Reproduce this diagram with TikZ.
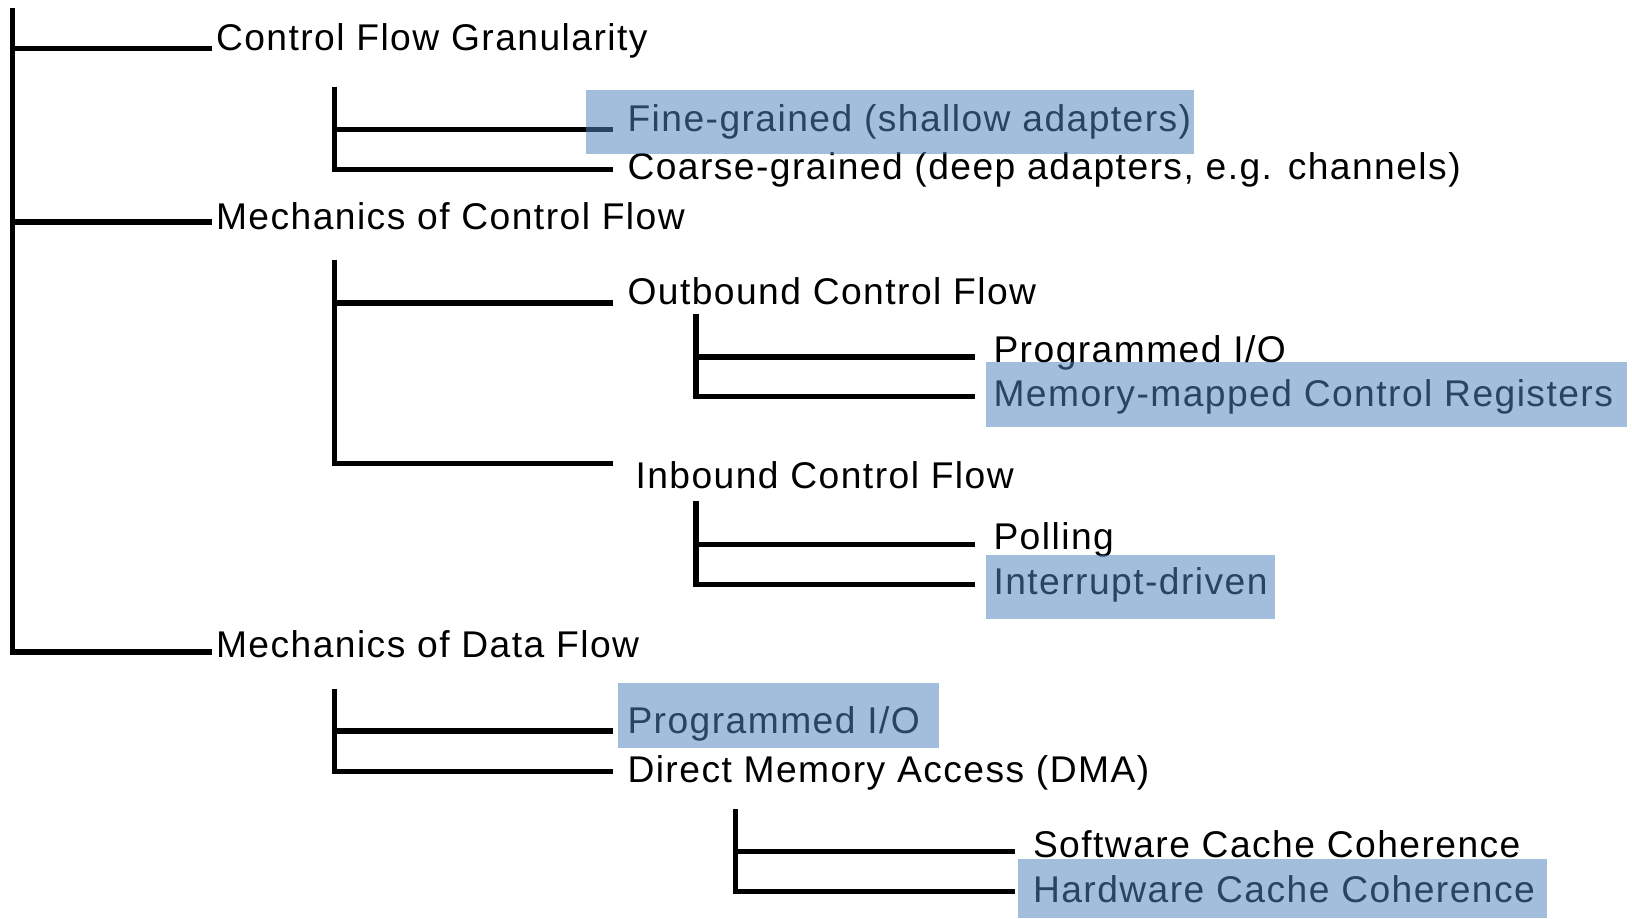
\documentclass[tikz,border=0pt]{standalone}
\usepackage{fontspec}
\setmainfont{Liberation Sans}[LetterSpace=3.9]
\definecolor{hlblue}{RGB}{79,129,189}
\newcommand\treefont{\fontsize{18.6}{22}\selectfont}
\begin{document}
\begin{tikzpicture}[x=0.5pt,y=-0.5pt,
  branch/.style={line width=2.7pt, black},
  label/.style={anchor=base west, inner sep=0pt, outer sep=0pt, font=\treefont},
  hilite/.style={fill=hlblue, fill opacity=0.52, draw=none}]
\useasboundingbox (0,0) rectangle (1632,919);

% labels of the taxonomy
\node[label] (cfg)    at (216,50.5)   {Control Flow Granularity};
\node[label] (fine)   at (627.5,132)  {Fine-grained (shallow adapters)};
\node[label] (coarse) at (627.5,180)  {Coarse-grained (deep adapters, e.g. channels)};
\node[label] (mcf)    at (216,230)    {Mechanics of Control Flow};
\node[label] (outb)   at (627.5,305)  {Outbound Control Flow};
\node[label] (pioa)   at (993.5,363)  {Programmed I/O};
\node[label] (mmcr)   at (993.5,407)  {Memory-mapped Control Registers};
\node[label] (inb)    at (635.5,488)  {Inbound Control Flow};
\node[label] (poll)   at (993.5,549.5){Polling};
\node[label] (irq)    at (993.5,594)  {Interrupt-driven};
\node[label] (mdf)    at (216,657.5)  {Mechanics of Data Flow};
\node[label] (piob)   at (627.5,733)  {Programmed I/O};
\node[label] (dma)    at (627.5,782)  {Direct Memory Access (DMA)};
\node[label] (swcc)   at (1033,857)   {Software Cache Coherence};
\node[label] (hwcc)   at (1033,902)   {Hardware Cache Coherence};

% stems and branch ends
\coordinate (root)    at (12.7,8);
\coordinate (cfgT)    at (212,48.8);
\coordinate (mcfT)    at (212,222);
\coordinate (mdfT)    at (212,652);

\coordinate (gA)      at (334.7,86.7);
\coordinate (fineT)   at (613.3,129.5);
\coordinate (coarseT) at (613.3,169.5);

\coordinate (gB)      at (334.7,260);
\coordinate (outbT)   at (613.3,303);
\coordinate (inbT)    at (613.3,463.7);

\coordinate (gBa)     at (696,314);
\coordinate (pioaT)   at (975,357);
\coordinate (mmcrT)   at (975,396.5);

\coordinate (gBb)     at (696,501);
\coordinate (pollT)   at (975,544.5);
\coordinate (irqT)    at (975,584.5);

\coordinate (gC)      at (334.5,689.3);
\coordinate (piobT)   at (613.3,731);
\coordinate (dmaT)    at (613.3,771.7);

\coordinate (gCa)     at (735.7,809.3);
\coordinate (swccT)   at (1015,851.7);
\coordinate (hwccT)   at (1015,891.5);

% tree connectors
\draw[branch] (root) |- (mdfT);
\draw[branch] (root |- cfgT) -- (cfgT);
\draw[branch] (root |- mcfT) -- (mcfT);

\draw[branch] (gA) |- (coarseT);
\draw[branch] (gA |- fineT) -- (fineT);

\draw[branch] (gB) |- (inbT);
\draw[branch] (gB |- outbT) -- (outbT);

\draw[branch] (gBa) |- (mmcrT);
\draw[branch] (gBa |- pioaT) -- (pioaT);

\draw[branch] (gBb) |- (irqT);
\draw[branch] (gBb |- pollT) -- (pollT);

\draw[branch] (gC) |- (dmaT);
\draw[branch] (gC |- piobT) -- (piobT);

\draw[branch] (gCa) |- (hwccT);
\draw[branch] (gCa |- swccT) -- (swccT);

% translucent highlight bands laid over the chosen options
\fill[hilite] (586,90)     rectangle (1193.8,154);
\fill[hilite] (986,362)    rectangle (1626.8,426.5);
\fill[hilite] (986,555)    rectangle (1275,619.3);
\fill[hilite] (617.7,682.7) rectangle (938.8,747.7);
\fill[hilite] (1017.7,859) rectangle (1546.6,918.3);
\end{tikzpicture}
\end{document}
